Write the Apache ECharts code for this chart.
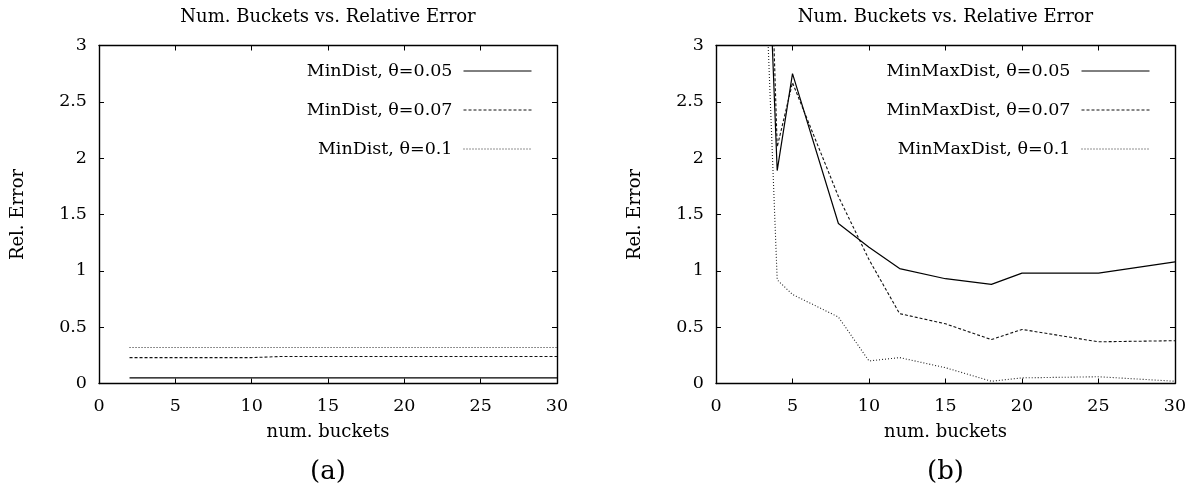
<!DOCTYPE html>
<html>
<head>
<meta charset="utf-8">
<script src="https://cdn.jsdelivr.net/npm/echarts@6/dist/echarts.min.js"></script>
<style>
html,body{margin:0;padding:0;background:#fff;}
#chart{width:1195px;height:494px;}
</style>
</head>
<body>
<div id="chart"></div>
<script>
// ---- data ----
const chartTitle = 'Num. Buckets vs. Relative Error';
const xTicks = [0, 5, 10, 15, 20, 25, 30];
const yTicks = [0, 0.5, 1, 1.5, 2, 2.5, 3];

// (a) MinDist
const bucketsA = [2, 3, 4, 5, 8, 10, 12, 15, 18, 20, 25, 30];
const minDist005 = [0.05, 0.05, 0.05, 0.05, 0.05, 0.05, 0.05, 0.05, 0.05, 0.05, 0.05, 0.05];
const minDist007 = [0.23, 0.23, 0.23, 0.23, 0.23, 0.23, 0.24, 0.24, 0.24, 0.24, 0.24, 0.24];
const minDist01  = [0.32, 0.32, 0.32, 0.32, 0.32, 0.32, 0.32, 0.32, 0.32, 0.32, 0.32, 0.32];

// (b) MinMaxDist
const bucketsB = [3, 4, 5, 8, 10, 12, 15, 18, 20, 25, 30];
const minMax005 = [5.36, 1.89, 2.75, 1.42, 1.21, 1.02, 0.93, 0.88, 0.98, 0.98, 1.08];
const minMax007 = [6.39, 2.10, 2.67, 1.66, 1.10, 0.62, 0.53, 0.39, 0.48, 0.37, 0.38];
const minMax01  = [4.45, 0.92, 0.79, 0.59, 0.20, 0.23, 0.14, 0.02, 0.05, 0.06, 0.02];

const namesA = ['MinDist, θ=0.05', 'MinDist, θ=0.07', 'MinDist, θ=0.1'];
const namesB = ['MinMaxDist, θ=0.05', 'MinMaxDist, θ=0.07', 'MinMaxDist, θ=0.1'];
const panelLabels = ['(a)', '(b)'];

// ---- styles ----
const FONT = '"DejaVu Serif", "Liberation Serif", serif';
const lineStyles = [
  {color: '#000', width: 1.2, type: 'solid'},
  {color: '#111', width: 1.1, type: [3, 2]},
  {color: '#222', width: 1.1, type: [1, 2]}
];

const gridsPx = [
  {left: 99, right: 1195 - 557, top: 45.5, bottom: 494 - 383.5},
  {left: 716, right: 1195 - 1175, top: 45.5, bottom: 494 - 383.5}
];

function zip(xs, ys) { return xs.map((x, i) => [x, ys[i]]); }

const xAxes = [], yAxes = [];
gridsPx.forEach((g, gi) => {
  const common = {
    gridIndex: gi, type: 'value', min: 0,
    axisLine: {show: true, onZero: false, lineStyle: {color: '#000', width: 1.4}},
    axisTick: {show: true, inside: true, length: 5, lineStyle: {color: '#000', width: 1}},
    splitLine: {show: false}
  };
  xAxes.push(Object.assign({}, common, {
    position: 'bottom', max: 30, interval: 5,
    name: 'num. buckets', nameLocation: 'middle', nameGap: 40,
    nameTextStyle: {fontFamily: FONT, fontSize: 18, color: '#000'},
    axisLabel: {show: true, margin: 14, fontFamily: FONT, fontSize: 17.5, color: '#000',
      formatter: v => xTicks.includes(v) ? String(v) : ''}
  }));
  xAxes.push(Object.assign({}, common, {
    position: 'top', max: 30, interval: 5, axisLabel: {show: false}
  }));
  yAxes.push(Object.assign({}, common, {
    position: 'left', max: 3, interval: 0.5,
    name: 'Rel. Error', nameLocation: 'middle', nameGap: 72,
    nameTextStyle: {fontFamily: FONT, fontSize: 18, color: '#000'},
    axisLabel: {show: true, margin: 12, fontFamily: FONT, fontSize: 17.5, color: '#000',
      formatter: v => yTicks.includes(v) ? String(v) : ''}
  }));
  yAxes.push(Object.assign({}, common, {
    position: 'right', max: 3, interval: 0.5, axisLabel: {show: false}
  }));
});

const seriesA = [minDist005, minDist007, minDist01];
const seriesB = [minMax005, minMax007, minMax01];
const series = [];
seriesA.forEach((vals, i) => series.push({
  name: namesA[i], type: 'line', xAxisIndex: 0, yAxisIndex: 0,
  data: zip(bucketsA, vals), symbol: 'none', showSymbol: false, clip: true,
  lineStyle: lineStyles[i], itemStyle: {color: lineStyles[i].color}, animation: false
}));
seriesB.forEach((vals, i) => series.push({
  name: namesB[i], type: 'line', xAxisIndex: 2, yAxisIndex: 2,
  data: zip(bucketsB, vals), symbol: 'none', showSymbol: false, clip: true,
  lineStyle: lineStyles[i], itemStyle: {color: lineStyles[i].color}, animation: false
}));

function legendFor(names, rightPx) {
  return {
    data: names, orient: 'vertical', align: 'right',
    right: rightPx, top: 62, padding: 0,
    itemWidth: 68, itemHeight: 14, itemGap: 21,
    itemStyle: {opacity: 0, color: 'transparent', borderWidth: 0},
    lineStyle: {width: 1},
    textStyle: {fontFamily: FONT, fontSize: 17.5, color: '#000', lineHeight: 18, padding: [0, 6, 0, 0]},
    selectedMode: false
  };
}

const centers = [(99 + 557) / 2, (716 + 1175) / 2];
const graphic = [];
centers.forEach((cx, i) => {
  graphic.push({type: 'text', x: cx, y: 17, style: {text: chartTitle, font: '18px ' + FONT,
    textAlign: 'center', textVerticalAlign: 'middle', fill: '#000'}});
  graphic.push({type: 'text', x: cx, y: 472, style: {text: panelLabels[i], font: '26px ' + FONT,
    textAlign: 'center', textVerticalAlign: 'middle', fill: '#000'}});
});

const chart = echarts.init(document.getElementById('chart'), null, {renderer: 'canvas'});
chart.setOption({
  animation: false,
  backgroundColor: '#fff',
  grid: gridsPx.map(g => Object.assign({containLabel: false}, g)),
  xAxis: xAxes,
  yAxis: yAxes,
  legend: [legendFor(namesA, 1195 - 532), legendFor(namesB, 1195 - 1150)],
  series: series,
  graphic: graphic
});
</script>
</body>
</html>
